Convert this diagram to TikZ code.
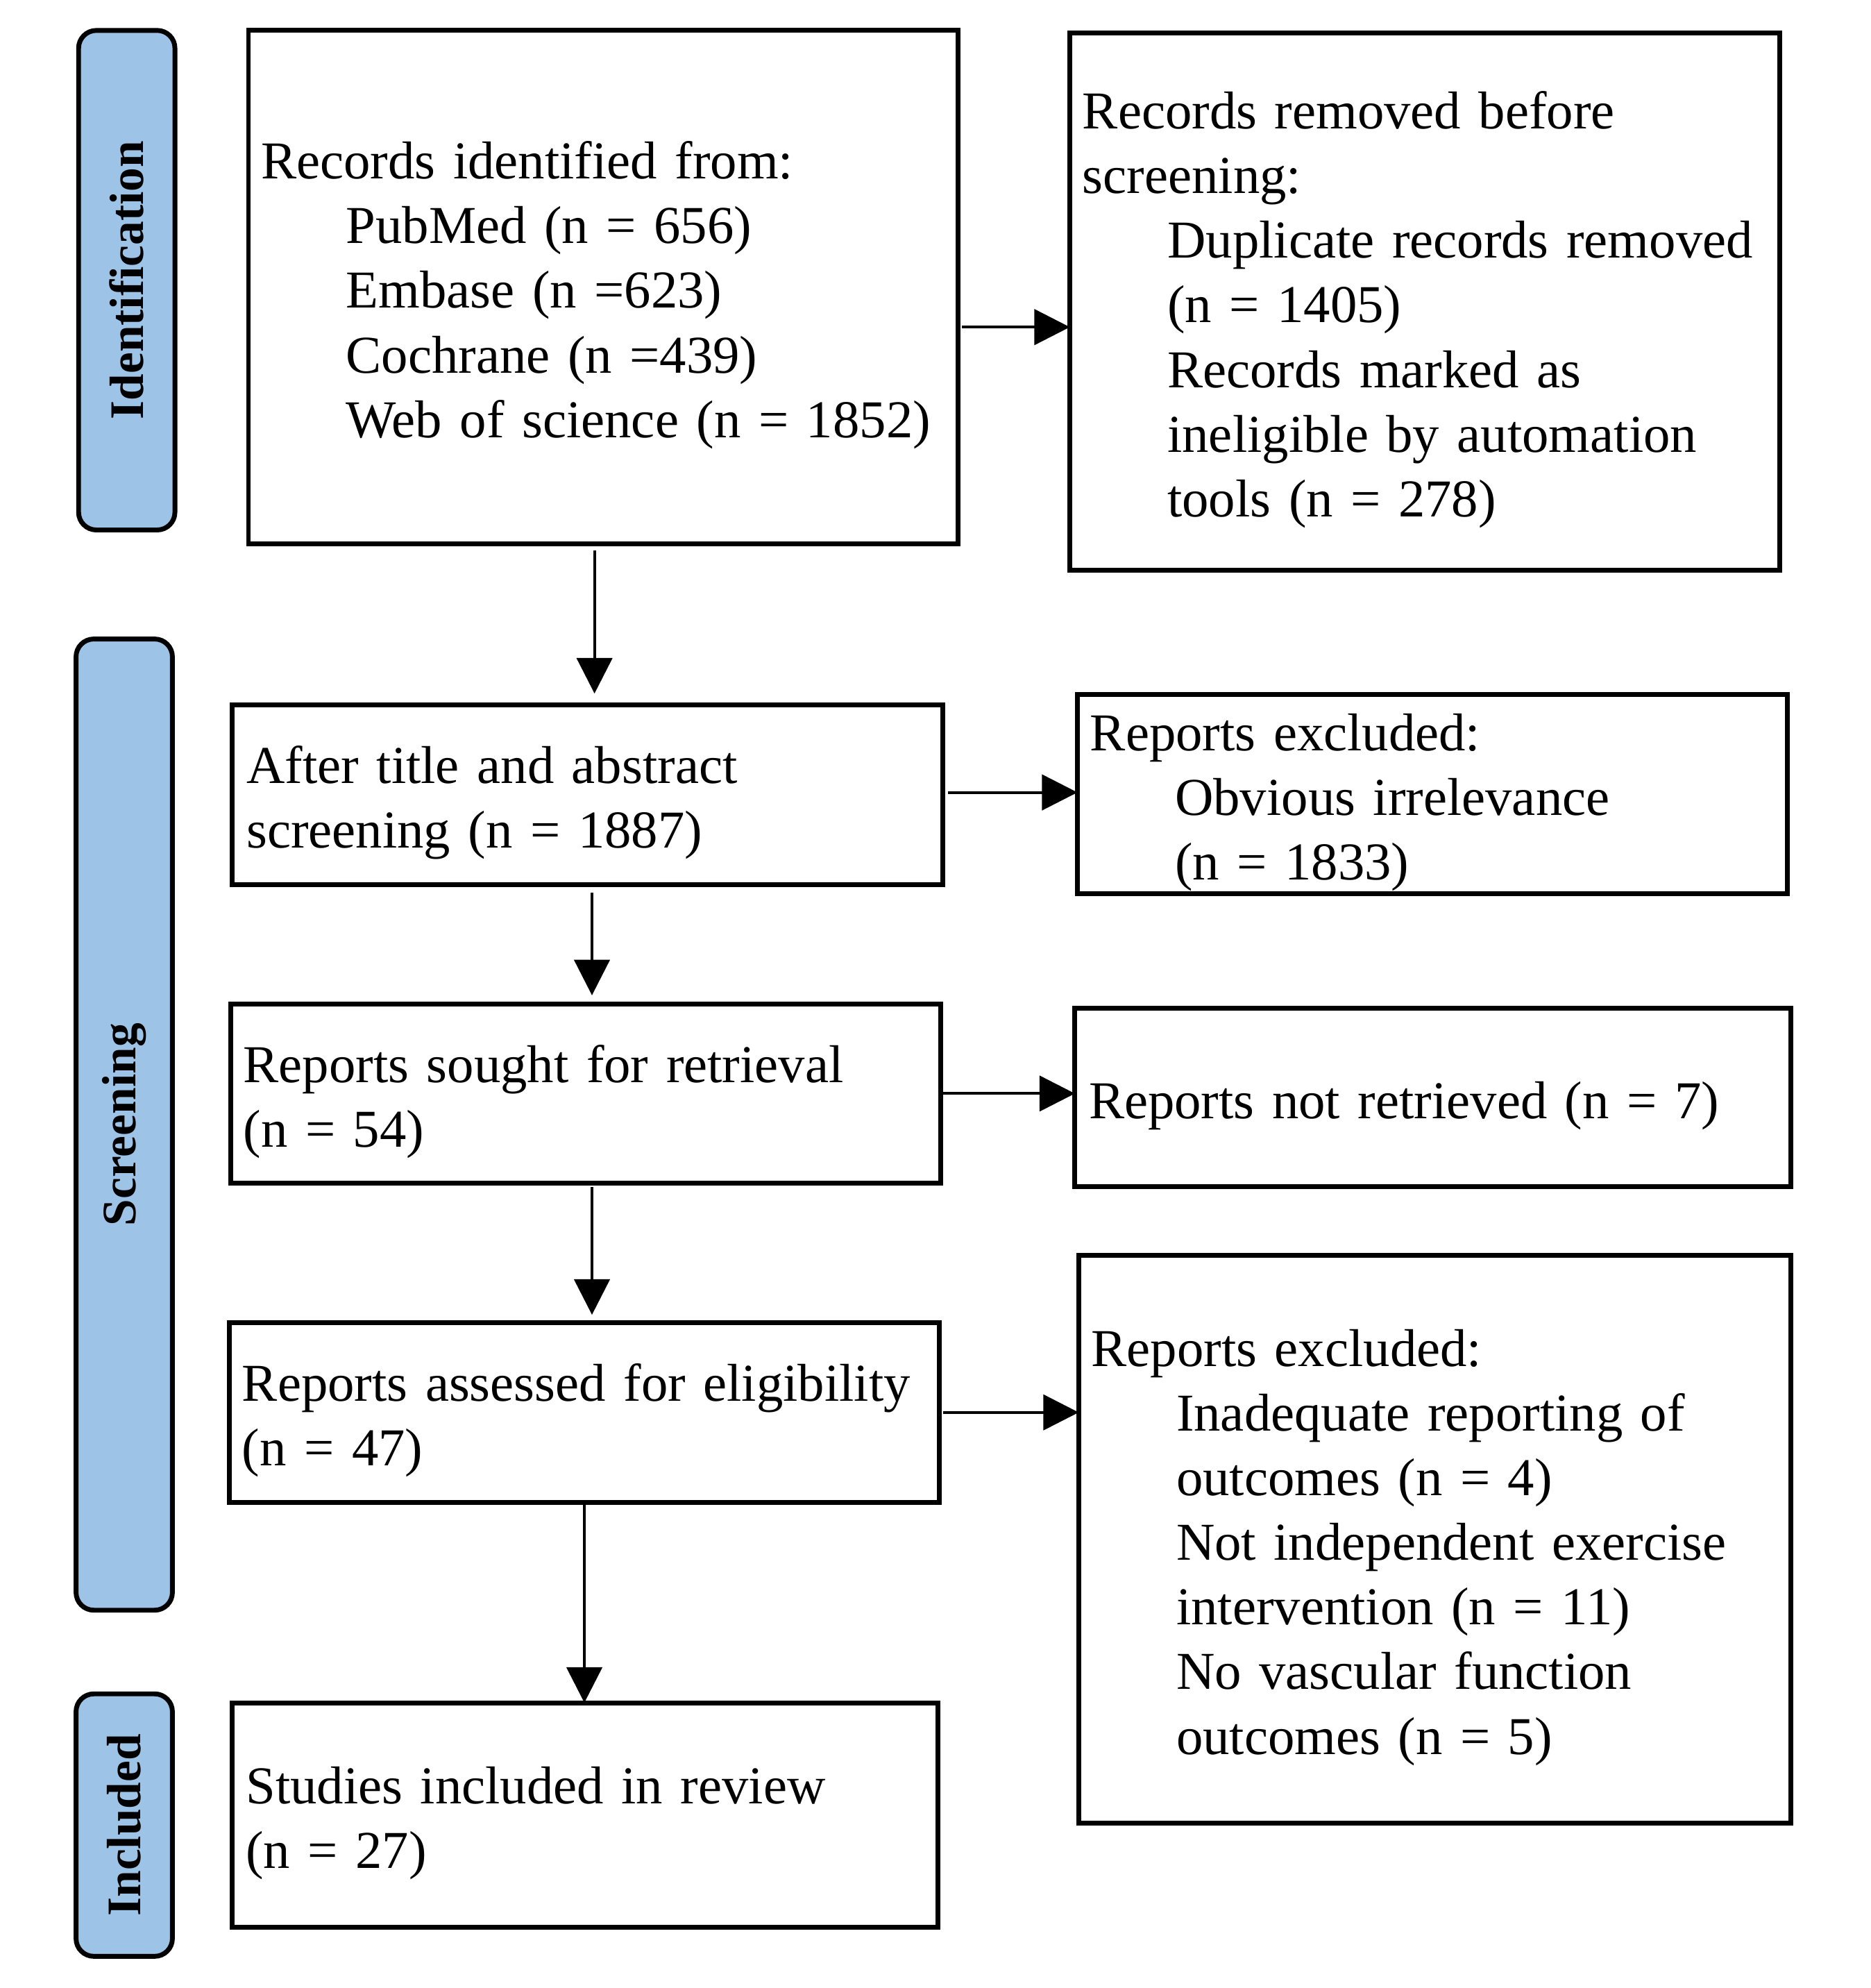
\documentclass[tikz,border=0pt]{standalone}
\usepackage{fontspec}
\setmainfont{Liberation Serif}[WordSpace=0.8]
\usepackage{tikz}
\usetikzlibrary{arrows.meta}
\definecolor{azulfase}{RGB}{157,195,230}
\newcommand{\recuo}{\hspace*{33.5pt}}

\begin{document}
\begin{tikzpicture}[x=0.5pt, y=-0.5pt]
\tikzstyle{caixa}=[rectangle, draw, line width=1.9pt, align=left, inner xsep=2pt, inner ysep=0.5pt, outer sep=0pt, font=\fontsize{21}{25.5}\selectfont, execute at begin node={\rule{0pt}{21pt}}]
\tikzstyle{fase}=[rectangle, rounded corners=7pt, draw, line width=1.9pt, fill=azulfase, rotate=90, minimum height=38pt, outer sep=0pt, font=\fontsize{19}{22}\selectfont\bfseries]
\tikzstyle{seta}=[line width=1.1pt, -{Triangle[length=14pt, width=14pt]}]
\useasboundingbox (0,0) rectangle (1476,1568);
% fases
\node[fase, minimum width=197pt] (fident) at (100,221) {Identification};
\node[fase, minimum width=383pt] (fscreen) at (98,887) {Screening};
\node[fase, minimum width=103.5pt] (fincl) at (98,1439.5) {Included};
% coluna esquerda
\node[caixa, minimum width=280pt, minimum height=202.5pt, text width=270pt] (ident) at (476,226.5)
  {Records identified from:\\
   \recuo PubMed (n = 656)\\
   \recuo Embase (n =623)\\
   \recuo Cochrane (n =439)\\
   \recuo Web of science (n = 1852)};
\node[caixa, minimum width=280.5pt, minimum height=71pt, text width=269pt] (title) at (463.5,627)
  {After title and abstract\\ screening (n = 1887)};
\node[caixa, minimum width=280pt, minimum height=70.5pt, text width=270pt] (sought) at (462,862.5)
  {Reports sought for retrieval\\ (n = 54)};
\node[caixa, minimum width=280pt, minimum height=71pt, text width=270pt] (assessed) at (461,1114)
  {Reports assessed for eligibility\\ (n = 47)};
\node[caixa, minimum width=278.5pt, minimum height=88.5pt, text width=267.5pt] (included) at (461.5,1431.5)
  {Studies included in review\\ (n = 27)};
% coluna direita
\node[caixa, minimum width=280pt, minimum height=212pt, text width=270pt] (removed) at (1124,238)
  {Records removed before\\ screening:\\
   \recuo Duplicate records removed\\
   \recuo (n = 1405)\\
   \recuo Records marked as\\
   \recuo ineligible by automation\\
   \recuo tools (n = 278)};
\node[caixa, minimum width=280pt, minimum height=78.5pt, text width=270pt] (irrel) at (1130,626.5)
  {Reports excluded:\\
   \recuo Obvious irrelevance\\
   \recuo (n = 1833)};
\node[caixa, minimum width=282.5pt, minimum height=70.5pt, text width=271.5pt] (notret) at (1130.5,865.5)
  {Reports not retrieved (n = 7)};
\node[caixa, minimum width=281pt, minimum height=224pt, text width=271pt] (excluded) at (1132,1214)
  {Reports excluded:\\
   \recuo Inadequate reporting of\\
   \recuo outcomes (n = 4)\\
   \recuo Not independent exercise\\
   \recuo intervention (n = 11)\\
   \recuo No vascular function\\
   \recuo outcomes (n = 5)};
% setas
\draw[seta, shorten <=2.5pt, shorten >=4.5pt] ([xshift=-3.5pt]ident.south) -- ([xshift=-3.5pt]ident.south |- title.north);
\draw[seta, shorten <=3pt, shorten >=3.5pt] ([xshift=1.75pt]title.south) -- ([xshift=1.75pt]title.south |- sought.north);
\draw[seta, shorten <=1.5pt, shorten >=3pt] ([xshift=2.5pt]sought.south) -- ([xshift=2.5pt]sought.south |- assessed.north);
\draw[seta] (assessed.south) -- (assessed.south |- included.north);
\draw[seta, shorten <=1.5pt] ([yshift=-15.75pt]ident.east) -- ([yshift=-15.75pt]ident.east -| removed.west);
\draw[seta, shorten <=2pt] ([yshift=1pt]title.east) -- ([yshift=1pt]title.east -| irrel.west);
\draw[seta, shorten <=1pt] (sought.east) -- (sought.east -| notret.west);
\draw[seta, shorten <=1.5pt] (assessed.east) -- (assessed.east -| excluded.west);
\end{tikzpicture}
\end{document}
